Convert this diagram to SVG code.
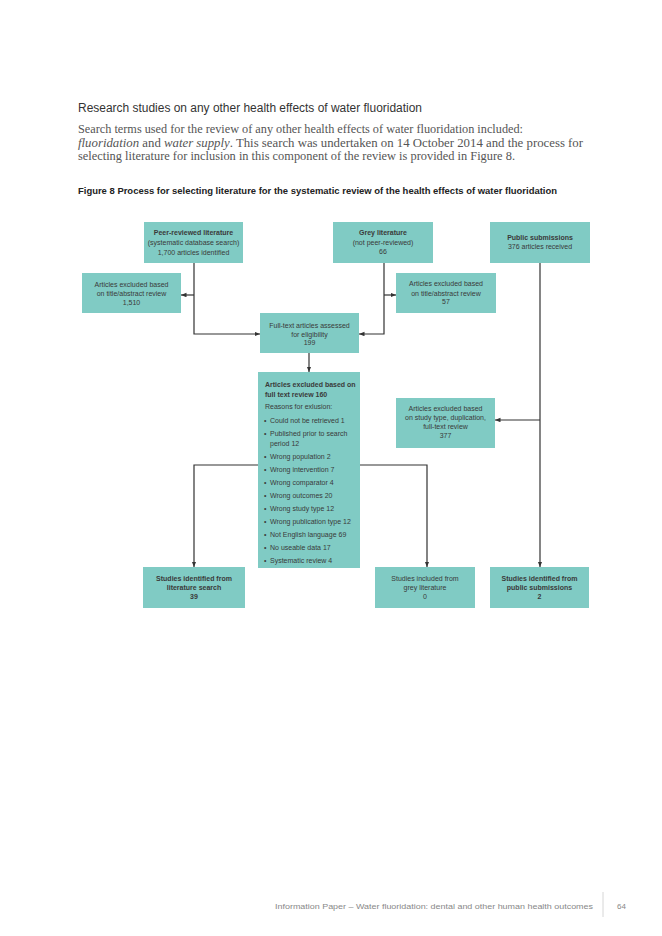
<svg xmlns="http://www.w3.org/2000/svg" width="662" height="936" viewBox="0 0 662 936">
<style>
.box{fill:#80cbc4;}
.t{font-family:"Liberation Sans",Arial,sans-serif;font-size:7px;fill:#3a3a3a;text-anchor:middle;}
.b{font-weight:bold;}
.l{font-family:"Liberation Sans",Arial,sans-serif;font-size:7px;fill:#3a3a3a;}
.c{fill:none;stroke:#333;stroke-width:1.2;}
</style>
<defs>
<marker id="ah" markerUnits="userSpaceOnUse" markerWidth="6" markerHeight="5" refX="5.5" refY="2.25" orient="auto">
<path d="M0,0 L5.5,2.25 L0,4.5 z" fill="#333"/>
</marker>
</defs>
<rect width="662" height="936" fill="#ffffff"/>
<g id="header">
<text x="78" y="112" font-family="'Liberation Sans',Arial,sans-serif" font-size="12.5" fill="#333" textLength="344" lengthAdjust="spacingAndGlyphs">Research studies on any other health effects of water fluoridation</text>
<text x="78" y="133" font-family="'Liberation Serif','Times New Roman',serif" font-size="12" fill="#555" textLength="445" lengthAdjust="spacingAndGlyphs">Search terms used for the review of any other health effects of water fluoridation included:</text>
<text x="78" y="146.5" font-family="'Liberation Serif','Times New Roman',serif" font-size="12" fill="#555" textLength="505" lengthAdjust="spacingAndGlyphs"><tspan font-style="italic">fluoridation</tspan> and <tspan font-style="italic">water supply</tspan>. This search was undertaken on 14 October 2014 and the process for</text>
<text x="78" y="160" font-family="'Liberation Serif','Times New Roman',serif" font-size="12" fill="#555" textLength="437" lengthAdjust="spacingAndGlyphs">selecting literature for inclusion in this component of the review is provided in Figure 8.</text>
<text x="78" y="194" font-family="'Liberation Sans',Arial,sans-serif" font-size="8.5" font-weight="bold" fill="#222" textLength="479" lengthAdjust="spacingAndGlyphs">Figure 8 Process for selecting literature for the systematic review of the health effects of water fluoridation</text>
</g>
<g id="connectors">
<path class="c" d="M194,262 V334 H260" marker-end="url(#ah)"/>
<path class="c" d="M194,295 H181" marker-end="url(#ah)"/>
<path class="c" d="M384,262 V334 H359" marker-end="url(#ah)"/>
<path class="c" d="M384,295 H396" marker-end="url(#ah)"/>
<path class="c" d="M309,353 V372" marker-end="url(#ah)"/>
<path class="c" d="M540,262 V567" marker-end="url(#ah)"/>
<path class="c" d="M540,420 H495" marker-end="url(#ah)"/>
<path class="c" d="M258,465 H194 V567" marker-end="url(#ah)"/>
<path class="c" d="M360,465 H427 V567" marker-end="url(#ah)"/>
</g>
<g id="peer">
<rect class="box" x="144" y="222" width="99" height="41"/>
<text class="t b" x="193.5" y="234.5">Peer-reviewed literature</text>
<text class="t" x="193.5" y="244.5">(systematic database search)</text>
<text class="t" x="193.5" y="254.5">1,700 articles identified</text>
</g>
<g id="grey">
<rect class="box" x="333" y="222" width="100" height="41"/>
<text class="t b" x="383" y="234.5">Grey literature</text>
<text class="t" x="383" y="244.5">(not peer-reviewed)</text>
<text class="t" x="383" y="254">66</text>
</g>
<g id="public">
<rect class="box" x="490" y="222" width="100" height="41"/>
<text class="t b" x="540" y="239.5">Public submissions</text>
<text class="t" x="540" y="248.5">376 articles received</text>
</g>
<g id="excl-left">
<rect class="box" x="82" y="273" width="99" height="40"/>
<text class="t" x="131.5" y="286.5">Articles excluded based</text>
<text class="t" x="131.5" y="295.5">on title/abstract review</text>
<text class="t" x="131.5" y="304.5">1,510</text>
</g>
<g id="excl-right">
<rect class="box" x="396" y="273" width="100" height="40"/>
<text class="t" x="446" y="286">Articles excluded based</text>
<text class="t" x="446" y="295.5">on title/abstract review</text>
<text class="t" x="446" y="304">57</text>
</g>
<g id="fulltext">
<rect class="box" x="260" y="313" width="99" height="40"/>
<text class="t" x="309.5" y="327.5">Full-text articles assessed</text>
<text class="t" x="309.5" y="336.5">for eligibility</text>
<text class="t" x="309.5" y="345">199</text>
</g>
<g id="excluded-fulltext">
<rect class="box" x="258" y="372" width="102" height="196"/>
<text class="l b" x="265" y="386.5">Articles excluded based on</text>
<text class="l b" x="265" y="396.5">full text review 160</text>
<text class="l" x="265" y="408.5">Reasons for exlusion:</text>
<text class="l" x="264" y="422.5">•</text><text class="l" x="270" y="422.5">Could not be retrieved 1</text>
<text class="l" x="264" y="435.5">•</text><text class="l" x="270" y="435.5">Published prior to search</text>
<text class="l" x="270" y="445.5">period 12</text>
<text class="l" x="264" y="458.5">•</text><text class="l" x="270" y="458.5">Wrong population 2</text>
<text class="l" x="264" y="471.5">•</text><text class="l" x="270" y="471.5">Wrong intervention 7</text>
<text class="l" x="264" y="484.5">•</text><text class="l" x="270" y="484.5">Wrong comparator 4</text>
<text class="l" x="264" y="497.5">•</text><text class="l" x="270" y="497.5">Wrong outcomes 20</text>
<text class="l" x="264" y="510.5">•</text><text class="l" x="270" y="510.5">Wrong study type 12</text>
<text class="l" x="264" y="523.5">•</text><text class="l" x="270" y="523.5">Wrong publication type 12</text>
<text class="l" x="264" y="536.5">•</text><text class="l" x="270" y="536.5">Not English language 69</text>
<text class="l" x="264" y="549.5">•</text><text class="l" x="270" y="549.5">No useable data 17</text>
<text class="l" x="264" y="562.5">•</text><text class="l" x="270" y="562.5">Systematic review 4</text>
</g>
<g id="excl-type">
<rect class="box" x="396" y="398" width="99" height="50"/>
<text class="t" x="445.5" y="410.5">Articles excluded based</text>
<text class="t" x="445.5" y="420">on study type, duplication,</text>
<text class="t" x="445.5" y="429">full-text review</text>
<text class="t" x="445.5" y="437.5">377</text>
</g>
<g id="studies-lit">
<rect class="box" x="143" y="567" width="102" height="41"/>
<text class="t b" x="194" y="580.5">Studies identified from</text>
<text class="t b" x="194" y="589.5">literature search</text>
<text class="t b" x="194" y="598.5">39</text>
</g>
<g id="studies-grey">
<rect class="box" x="375" y="567" width="100" height="41"/>
<text class="t" x="425" y="580.5">Studies included from</text>
<text class="t" x="425" y="589.5">grey literature</text>
<text class="t" x="425" y="598.5">0</text>
</g>
<g id="studies-public">
<rect class="box" x="490" y="567" width="99" height="41"/>
<text class="t b" x="539.5" y="580.5">Studies identified from</text>
<text class="t b" x="539.5" y="589.5">public submissions</text>
<text class="t b" x="539.5" y="598.5">2</text>
</g>
<g id="footer">
<text x="275" y="909" font-family="'Liberation Sans',Arial,sans-serif" font-size="8" fill="#888" textLength="318" lengthAdjust="spacingAndGlyphs">Information Paper – Water fluoridation: dental and other human health outcomes</text>
<line x1="603" y1="892" x2="603" y2="917" stroke="#ccc" stroke-width="0.8"/>
<text x="617" y="909" font-family="'Liberation Sans',Arial,sans-serif" font-size="8" fill="#888">64</text>
</g>
</svg>
